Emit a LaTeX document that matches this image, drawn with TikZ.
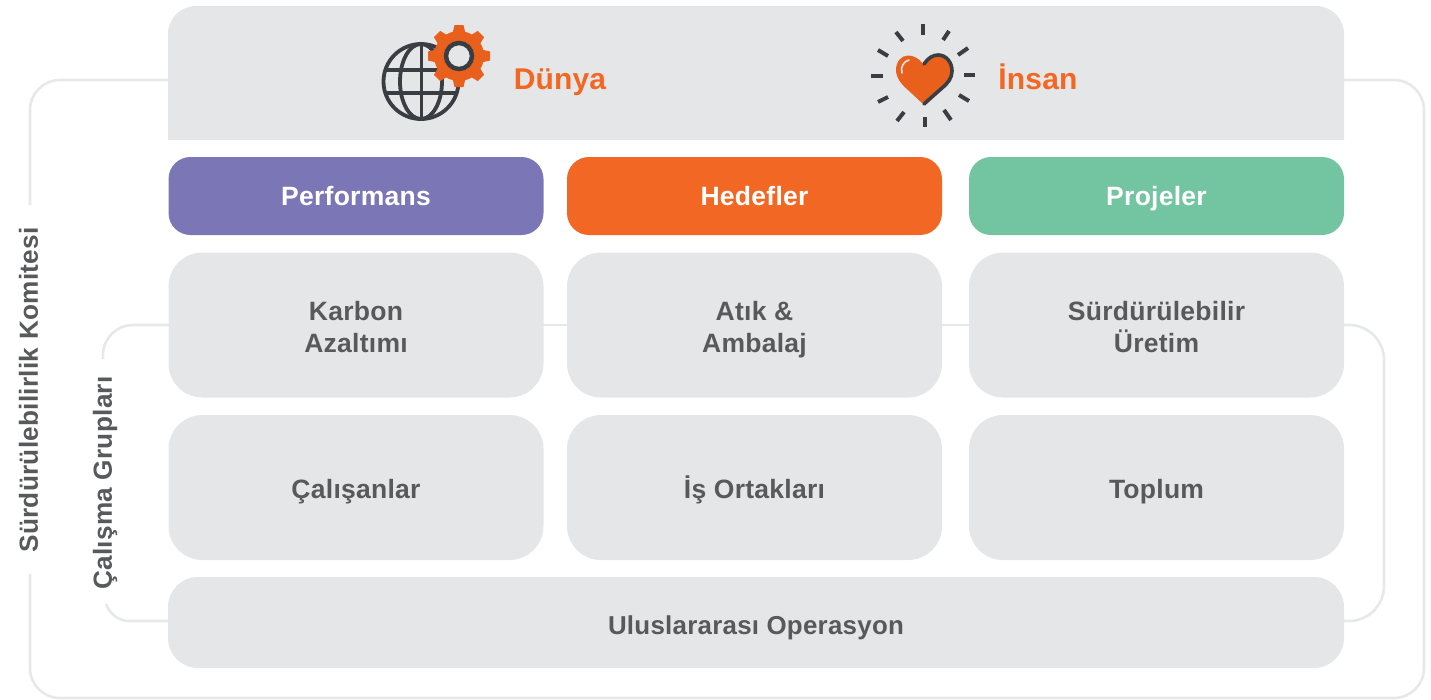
\documentclass[tikz,border=0pt]{standalone}
\usepackage{fontspec}
\setmainfont{Liberation Sans}
\newfontfamily\lblfont{Liberation Sans}[LetterSpace=1]
\newfontfamily\topfont{Liberation Sans}[LetterSpace=0.6]
\newcommand{\sr}[1]{\rule[-7pt]{0pt}{\dimexpr#1pt+7pt\relax}}
\definecolor{boxgray}{HTML}{E5E6E8}
\definecolor{linegray}{HTML}{E7E8E9}
\definecolor{txtgray}{HTML}{58595B}
\definecolor{orangetxt}{HTML}{F26722}
\definecolor{orangebox}{HTML}{F36724}
\definecolor{iconorange}{HTML}{E8601C}
\definecolor{purplebox}{HTML}{7B77B6}
\definecolor{greenbox}{HTML}{72C5A0}
\definecolor{icondark}{HTML}{3A3D42}
\tikzset{
  x=1pt,y=-1pt,
  frameline/.style={draw=linegray,line width=2.6pt,rounded corners=#1},
  cardbase/.style={rectangle,inner sep=0pt,align=center,font=\fontsize{26.5}{32}\lblfont\bfseries},
  card/.style={cardbase,fill=boxgray,text=txtgray,minimum width=375pt,minimum height=145pt,rounded corners=34pt},
  head/.style={cardbase,text=white,minimum width=375pt,minimum height=78pt,rounded corners=22pt},
  sidelabel/.style={inner sep=0pt,rotate=90,text=txtgray,font=\fontsize{26.2}{30}\lblfont\bfseries},
  toplabel/.style={inner sep=0pt,text=orangetxt,font=\fontsize{30}{34}\topfont\bfseries},
  iconline/.style={draw=icondark,line width=3.8pt},
  ray/.style={draw=icondark,line width=4pt},
}
\begin{document}
\begin{tikzpicture}
\useasboundingbox (0,0) rectangle (1431,699);
% frame end points
\coordinate (oa) at (168,80);
\coordinate (ob) at (30,80);
\coordinate (oc) at (30,205);
\coordinate (od) at (30,574);
\coordinate (oe) at (30,698);
\coordinate (of) at (1424,698);
\coordinate (og) at (1424,80);
\coordinate (oh) at (1344,80);
\coordinate (ia) at (1344,325);
\coordinate (ib) at (1384,325);
\coordinate (ic) at (1384,621);
\coordinate (id) at (1344,621);
\coordinate (ie) at (168,325);
\coordinate (if) at (103,325);
\coordinate (ig) at (103,359);
\coordinate (ih) at (168,621);
\coordinate (ii) at (130,621);
\coordinate (ij) at (106,604);
\draw[frameline=30pt] (oa) -- (ob) -- (oc);
\draw[frameline=30pt] (od) -- (oe) -- (of) -- (og) -- (oh);
\draw[frameline=35pt] (ia) -- (ib) -- (ic) -- (id);
\draw[frameline=30pt] (ie) -- (if) -- (ig);
\draw[draw=linegray,line width=2.6pt] (ih) -- (ii) .. controls (118,621) and (110,614) .. (ij);
\draw[draw=linegray,line width=2.6pt] (ie) -- (ia);
% top panel
\fill[boxgray] (168,140) [rounded corners=28pt] -- (168,6) -- (1344,6) [sharp corners] -- (1344,140) -- cycle;
% headers
\node[head,fill=purplebox] (perf) at (356,196) {\sr{25}Performans};
\node[head,fill=orangebox] (hed) at (754.5,196) {\sr{25}Hedefler};
\node[head,fill=greenbox] (proj) at (1156.5,196) {\sr{25}Projeler};
% cards
\node[card] (karbon) at (356,325) {\sr{29}Karbon\\\sr{25}Azaltımı};
\node[card] (atik) at (754.5,325) {\sr{29}Atık \&\\\sr{25}Ambalaj};
\node[card] (uretim) at (1156.5,325) {\sr{29}Sürdürülebilir\\\sr{25}Üretim};
\node[card] (calisan) at (356,487.5) {\sr{28}Çalışanlar};
\node[card] (ortak) at (754.5,487.5) {\sr{28}İş Ortakları};
\node[card] (toplum) at (1156.5,487.5) {\sr{28}Toplum};
\node[card,minimum width=1176pt,minimum height=91pt,rounded corners=30pt,font=\fontsize{25.9}{32}\lblfont\bfseries] (ulus) at (756,622.5) {\sr{30}Uluslararası Operasyon};
% side labels
\node[sidelabel] (komite) at (28.5,390) {\sr{25.5}Sürdürülebilirlik Komitesi};
\node[sidelabel] (calisma) at (102.5,483) {\sr{25.5}Çalışma Grupları};
% top labels
\node[toplabel] (dunya) at (560,79) {\rule[-9pt]{0pt}{39.5pt}Dünya};
\node[toplabel] (insan) at (1038,79) {\rule[-9pt]{0pt}{39.5pt}İnsan};
% globe icon
\draw[iconline] (421,81.5) circle (37.5);
\draw[iconline] (421,81.5) ellipse (21 and 37.5);
\draw[iconline] (421.5,44) -- (421.5,119);
\draw[iconline] (385.3,70) -- (456.7,70);
\draw[iconline] (385.3,93) -- (456.7,93);
% gear icon
\fill[iconorange] (459,56) circle (25);
\foreach \a in {0,45,...,315}
  \fill[iconorange,rotate around={\a:(459,56)}] (454.5,25) -- (463.5,25) -- (467,40) -- (451,40) -- cycle;
\fill[boxgray] (459,56) circle (12);
\draw[icondark,line width=4.5pt] (459,56) circle (13);
% heart icon
\fill[iconorange] (923,64) .. controls (919,58) and (913,55.5) .. (908,55.5)
  .. controls (901,55.5) and (896,62) .. (896,70)
  .. controls (896,78) and (902,85) .. (908,90)
  -- (924,105) -- (943,88)
  .. controls (949,83) and (953,78) .. (953,71)
  .. controls (953,62) and (946,55) .. (938,55)
  .. controls (932,55) and (927,58) .. (923,64) -- cycle;
\draw[icondark,line width=3.6pt,line cap=round] (924,64) .. controls (928,58) and (933,55) .. (938,55)
  .. controls (946,55) and (952,62) .. (952,71)
  .. controls (952,78) and (948,83) .. (942,88) -- (924,104);
\draw[boxgray,line width=1.6pt,line cap=round] (902,73) .. controls (900,67) and (904,61) .. (909,60);
% rays
\draw[ray] (922.5,24) -- (922.5,35);
\draw[ray] (924.5,117) -- (924.5,127);
\draw[ray] (871,76) -- (883,76);
\draw[ray] (964,74.5) -- (975,74.5);
\draw[ray] (896,32) -- (903,41);
\draw[ray] (949,31) -- (943,40);
\draw[ray] (878,50) -- (888,56);
\draw[ray] (968,48) -- (958,55);
\draw[ray] (878,102) -- (888,97);
\draw[ray] (969,101) -- (959,95);
\draw[ray] (897,121) -- (904,112);
\draw[ray] (951,120) -- (944,110);
\end{tikzpicture}
\end{document}
